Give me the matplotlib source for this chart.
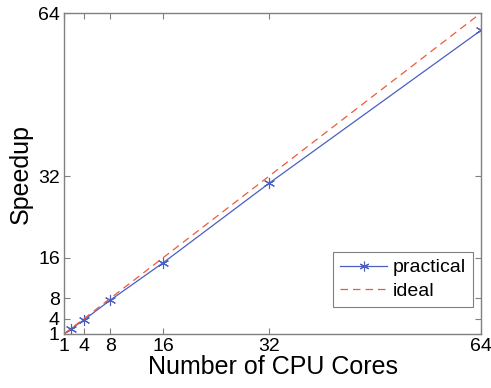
import matplotlib.pyplot as plt

cores = [1, 2, 4, 8, 16, 32, 64]
practical = [1, 1.95, 3.75, 7.65, 15.0, 30.6, 60.6]
ideal = [1, 2, 4, 8, 16, 32, 64]
ticks = [1, 4, 8, 16, 32, 64]

BLUE = "#4a5fc0"
RED = "#ee5a3a"
AXIS = "#808080"
ASTERISK = (6, 2, 0)

plt.rcParams["font.family"] = ["Liberation Sans", "DejaVu Sans"]

fig = plt.figure(figsize=(4.91, 3.88), dpi=100)
ax = fig.add_axes([64 / 491, 54 / 388, 417 / 491, 321 / 388])

ax.plot(cores, practical, color=BLUE, linewidth=0.9, label="practical")
ax.plot(cores[1:], practical[1:], linestyle="none", marker=ASTERISK, markersize=8,
        color=BLUE, markeredgewidth=0.8)
ax.plot(cores, ideal, color=RED, linewidth=0.9, linestyle=(0, (6, 4)), label="ideal")

ax.set_xlim(1, 64)
ax.set_ylim(1, 64)
ax.set_xticks(ticks)
ax.set_yticks(ticks)
ax.tick_params(direction="in", length=4, width=0.8, color=AXIS, labelsize=14,
               top=True, right=True, pad=3)
for spine in ax.spines.values():
    spine.set_color(AXIS)
    spine.set_linewidth(1.0)

ax.set_xlabel("Number of CPU Cores", fontsize=18, labelpad=0)
ax.set_ylabel("Speedup", fontsize=18, labelpad=4)

handles = [
    plt.Line2D([], [], color=BLUE, linewidth=0.9, marker=ASTERISK, markersize=7,
               markeredgewidth=0.8),
    plt.Line2D([], [], color=RED, linewidth=0.9, linestyle=(0, (6, 4))),
]
leg = ax.legend(handles, ["practical", "ideal"], loc="lower right",
                bbox_to_anchor=(0.98, 0.085), fontsize=14, frameon=True,
                fancybox=False, edgecolor=AXIS, framealpha=1,
                handlelength=2.4, handletextpad=0.3, borderpad=0.35,
                labelspacing=0.3, borderaxespad=0)
leg.get_frame().set_linewidth(0.8)

fig.savefig("out.png", dpi=100, facecolor="white")
